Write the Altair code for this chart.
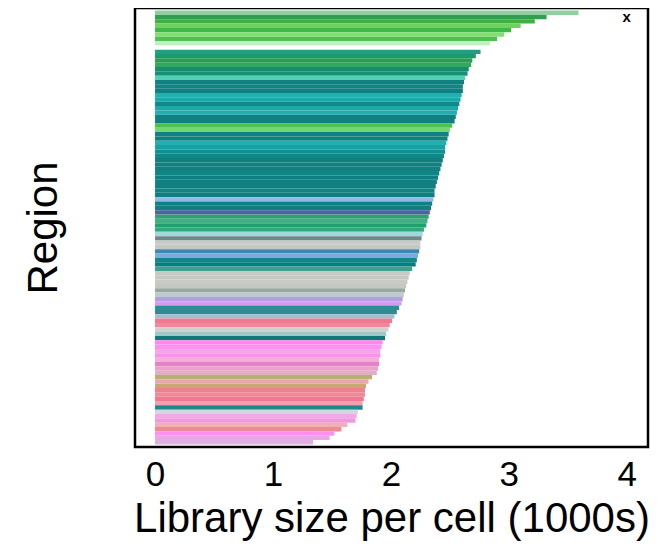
import altair as alt
import pandas as pd

regions = [f"R{i:03d}" for i in range(1, 101)]

lib_size = [
    3.59, 3.32, 3.22, 3.10, 3.02, 2.96, 2.90, 2.84, 0.0, 2.76,
    2.72, 2.69, 2.68, 2.66, 2.65, 2.63, 2.62, 2.61, 2.61, 2.60,
    2.59, 2.58, 2.57, 2.56, 2.55, 2.54, 2.52, 2.50, 2.49, 2.48,
    2.47, 2.46, 2.46, 2.45, 2.44, 2.43, 2.42, 2.41, 2.40, 2.39,
    2.38, 2.37, 2.37, 2.36, 2.35, 2.34, 2.33, 2.32, 2.31, 2.30,
    2.28, 2.27, 2.26, 2.25, 2.25, 2.24, 2.23, 2.22, 2.21, 2.18,
    2.16, 2.15, 2.14, 2.13, 2.12, 2.11, 2.10, 2.09, 2.07, 2.05,
    2.03, 2.01, 1.99, 1.98, 1.96, 1.95, 1.93, 1.92, 1.91, 1.91,
    1.90, 1.90, 1.89, 1.88, 1.84, 1.81, 1.79, 1.78, 1.78, 1.77,
    1.76, 1.76, 1.72, 1.71, 1.70, 1.63, 1.58, 1.52, 1.48, 1.34,
]

region_colors = [
    "#90d0a0", "#30a050", "#40b040", "#70d060", "#40b848", "#80e070", "#50c050", "#c0f0c0", "#ffffff", "#20a080",
    "#1a9a70", "#28a050", "#30a860", "#1a8a70", "#189078", "#50d0b0", "#108080", "#0f8585", "#0f7f80", "#20b0b0",
    "#1aa8a8", "#148888", "#1aa8a8", "#20b0b0", "#108080", "#0f7f80", "#50c050", "#70d870", "#108080", "#0f8080",
    "#20b0b0", "#1aa0a0", "#109090", "#108888", "#0f8080", "#0f7f80", "#108080", "#0f8585", "#0f7f80", "#108080",
    "#0f7f80", "#118484", "#0f7f80", "#90b8e8", "#108080", "#0f7f80", "#5060a8", "#30a070", "#40b080", "#20a070",
    "#30a878", "#a0d8e0", "#708888", "#c8ccc8", "#c4c8c4", "#3a8ab0", "#80a8e0", "#108888", "#008080", "#40a090",
    "#c8cac6", "#c6c8c4", "#c8cac6", "#c4c8c2", "#98aaa0", "#c0c8d0", "#b0a0e0", "#d898f0", "#2a9090", "#308898",
    "#a0c0d0", "#f07890", "#f08898", "#d0d0d0", "#a0c8c8", "#107878", "#ff88ee", "#ff90f0", "#f0a8e8", "#ff90e8",
    "#f0b0d8", "#e880c8", "#f0a0d0", "#e0b0c0", "#b8b070", "#e8a8b0", "#c8a870", "#f08090", "#f08898", "#f07890",
    "#f0a0b0", "#208888", "#d0d8e0", "#f0a8e8", "#f098e0", "#f0b0b0", "#f08898", "#ff90f0", "#e8a8e8", "#e0b0e0",
]

tick_values = [0, 1, 2, 3, 4]

df = pd.DataFrame({"Region": regions, "size": lib_size})

bars = (
    alt.Chart(df)
    .mark_bar(height={"band": 1.0})
    .encode(
        x=alt.X(
            "size:Q",
            scale=alt.Scale(domain=[-0.17, 4.18], nice=False, zero=False),
            axis=alt.Axis(
                values=tick_values,
                format="d",
                title="Library size per cell (1000s)",
                grid=False,
                ticks=False,
                domain=False,
                labelFontSize=35,
                labelPadding=10,
                titleFontSize=42,
                titleFontWeight="normal",
                titlePadding=6,
                labelFont="Liberation Sans",
                titleFont="Liberation Sans",
                labelColor="black",
                titleColor="black",
            ),
        ),
        x2=alt.datum(0),
        y=alt.Y(
            "Region:N",
            sort=regions,
            scale=alt.Scale(paddingInner=0, paddingOuter=0.6),
            axis=alt.Axis(
                labels=False,
                ticks=False,
                domain=False,
                grid=False,
                title="Region",
                titleFontSize=42,
                titleFontWeight="normal",
                titlePadding=70,
                titleFont="Liberation Sans",
                titleColor="black",
            ),
        ),
        color=alt.Color(
            "Region:N",
            scale=alt.Scale(domain=regions, range=region_colors),
            legend=None,
        ),
    )
)

marker = alt.Chart(pd.DataFrame({"v": [4]})).mark_text(
    text="x", fontSize=15, fontWeight="bold", baseline="middle", color="black", font="Liberation Sans"
).encode(x=alt.X("v:Q"), y=alt.value(9))

chart = (
    alt.layer(bars, marker)
    .properties(
        width=513,
        height=439,
        autosize=alt.AutoSizeParams(type="none"),
        padding={"left": 127, "top": 0, "right": 8, "bottom": 100},
    )
    .configure_view(stroke="black", strokeWidth=2.5)
)

chart.save("out.html", embed_options={"renderer": "svg", "actions": False})
